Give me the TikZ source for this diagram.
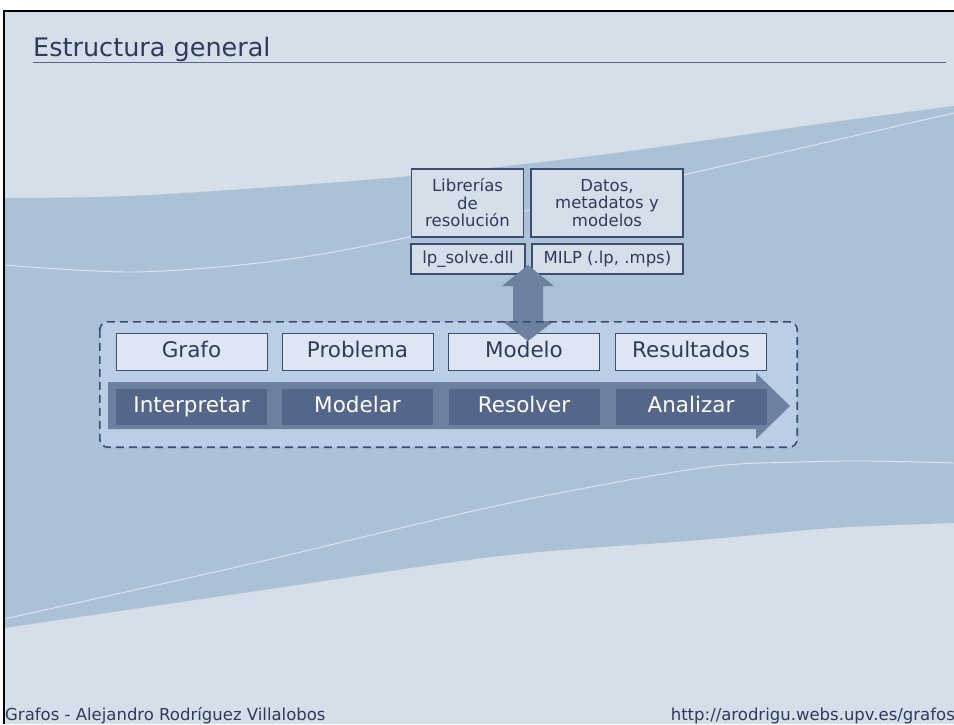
\documentclass[tikz,border=0pt]{standalone}
\usepackage{fontspec}
\setmainfont{DejaVu Sans}
\definecolor{bgpale}{HTML}{D5DFE9}
\definecolor{bandblue}{HTML}{ADC1D6}
\definecolor{swoosh}{HTML}{DCE6F6}
\definecolor{groupfill}{HTML}{BCCEE5}
\definecolor{rowfill}{HTML}{DFE6F3}
\definecolor{libfill}{HTML}{D5DFEA}
\definecolor{edge}{HTML}{3B4D72}
\definecolor{stagefill}{HTML}{54678A}
\definecolor{flowblue}{HTML}{6C809F}
\definecolor{inkblue}{HTML}{2F3B5C}
\tikzset{
  libbox/.style={draw=edge, line width=1.3pt, fill=libfill, text=inkblue,
    inner sep=0pt, align=center, font=\fontsize{16.5}{17.5}\selectfont},
  rowbox/.style={draw=edge, line width=1pt, fill=rowfill, text=inkblue,
    inner sep=0pt, minimum width=151pt, minimum height=37pt,
    text height=15.7pt, text depth=4.3pt,
    font=\fontsize{21.5}{24}\selectfont},
  stagebox/.style={fill=stagefill, text=white, inner sep=0pt,
    minimum width=151pt, minimum height=36pt,
    text height=15.7pt, text depth=4.3pt,
    font=\fontsize{21.5}{24}\selectfont},
}
\begin{document}
\begin{tikzpicture}[x=1pt, y=-1pt]
\useasboundingbox (0,0) rectangle (954,724);
% slide background and frame
\fill[white] (0,0) rectangle (954,724);
\fill[bgpale] (4,11) rectangle (954,724);
% diagonal band
\fill[bandblue] plot[smooth] coordinates {(4,198) (100,197) (200,192) (400,177) (600,155) (833,122) (954,106)}
  -- (954,523)
  -- plot[smooth] coordinates {(954,523) (833,528) (700,540) (500,556) (250,592) (4,628)} -- cycle;
\draw[swoosh, line width=0.9pt] plot[smooth] coordinates {(4,265) (133,272) (267,262) (400,239) (683,175) (954,113)};
\draw[swoosh, line width=0.9pt] plot[smooth] coordinates {(4,619) (250,564) (500,505) (700,468) (800,462) (870,461) (954,463)};
\draw[black, line width=2.2pt] (4,724) -- (4,11) -- (954,11);
% title
\node[anchor=base west, text=inkblue, font=\fontsize{25.5}{30}\selectfont, inner sep=0pt] (title) at (33,56) {Estructura general};
\draw[edge!85!white, line width=1pt] (33,62) -- (946,62);
% footer
\node[anchor=base west, text=inkblue, font=\fontsize{16.5}{19}\selectfont, inner sep=0pt] (author) at (5,720) {Grafos - Alejandro Rodríguez Villalobos};
\node[anchor=base east, text=inkblue, font=\fontsize{16.5}{19}\selectfont, inner sep=0pt] (url) at (955,720) {http://arodrigu.webs.upv.es/grafos};
% process group
\node[fill=groupfill, rounded corners=8pt, minimum width=697pt, minimum height=125pt, inner sep=0pt] (group) at (448.5,384.5) {};
\fill[flowblue] (108,382) -- (756,382) -- (756,373) -- (790,406) -- (756,439) -- (756,429) -- (108,429) -- cycle;
\node[rowbox] (grafo) at (191.5,351.5) {Grafo};
\node[rowbox] (problema) at (357.5,351.5) {Problema};
\node[rowbox] (modelo) at (524,351.5) {Modelo};
\node[rowbox] (resultados) at (691,351.5) {Resultados};
\node[stagebox] (interpretar) at (191.5,407) {Interpretar};
\node[stagebox] (modelar) at (357.5,407) {Modelar};
\node[stagebox] (resolver) at (524,407) {Resolver};
\node[stagebox] (analizar) at (691,407) {Analizar};
% solver libraries and data formats
\node[libbox, minimum width=112pt, minimum height=68pt] (lib) at (467.5,203) {Librerías\\de\\resolución};
\node[libbox, minimum width=152pt, minimum height=68pt] (datos) at (607,203) {Datos,\\metadatos y\\modelos};
\node[libbox, minimum width=114pt, minimum height=30pt] (lp) at (468,259) {lp\_solve.dll};
\node[libbox, minimum width=151pt, minimum height=30pt] (milp) at (607.5,259) {MILP (.lp, .mps)};
% two-way link between the libraries and the model stage
\fill[flowblue] (528,265) -- (554,286) -- (543,286) -- (543,321) -- (554,321) -- (528,341)
  -- (502,321) -- (513,321) -- (513,286) -- (502,286) -- cycle;
\draw[edge, line width=1.6pt, dash pattern=on 8pt off 5pt, rounded corners=8pt]
  (group.north west) rectangle (group.south east);
\end{tikzpicture}
\end{document}
